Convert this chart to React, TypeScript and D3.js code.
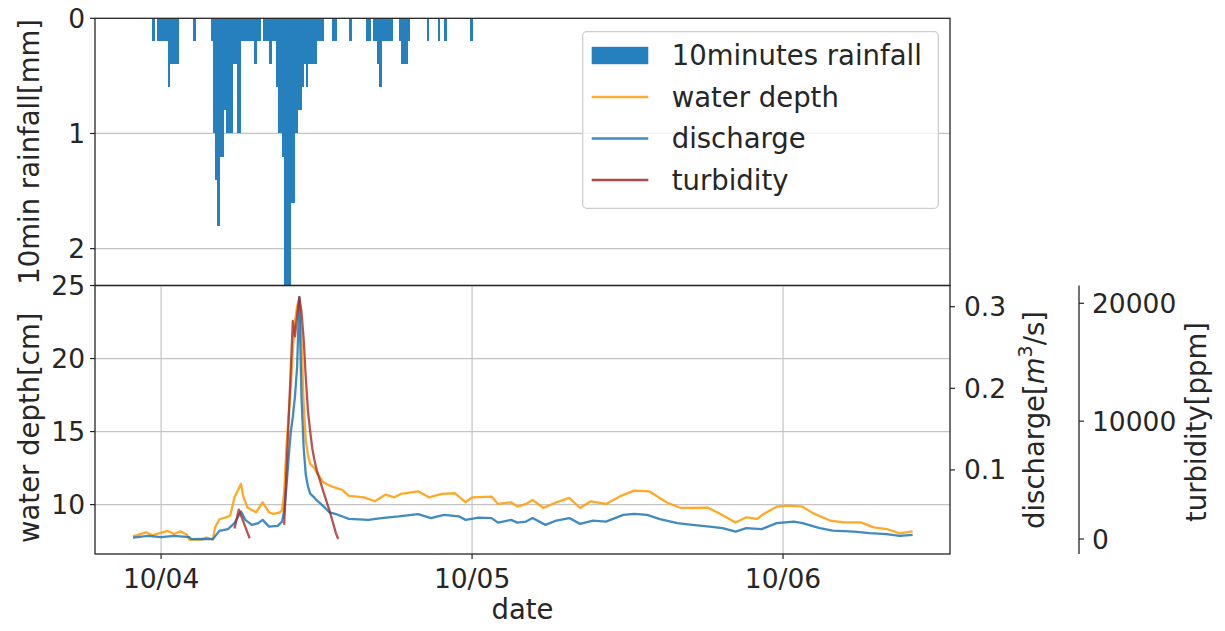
import React from "react";
import * as d3 from "d3";

const parse = d3.timeParse("%m/%d %H:%M");

// 10 minute rainfall [mm], one value per 10 min starting at rainStart
const rainStart = "10/03 23:20";
const rainfall = [
  0.2, 0, 0.2, 0.2, 0.2, 0.2, 0.2, 0.6, 0.4, 0.4,
  0.4, 0.4, 0, 0, 0, 0, 0, 0, 0, 0.2,
  0, 0, 0, 0, 0, 0, 0, 0.2, 1.0, 1.4,
  1.8, 1.2, 1.2, 0.8, 1.0, 1.0, 1.0, 0.4, 0.4, 1.0,
  1.0, 0.2, 0.2, 0.2, 0.2, 0.2, 0.2, 0.4, 0.2, 0.2,
  0, 0.2, 0.2, 0.2, 0.4, 0.2, 0.2, 0.6, 1.0, 1.0,
  1.2, 2.4, 2.4, 2.4, 1.6, 1.6, 1.0, 0.8, 0.8, 0.6,
  0.4, 0.6, 0.4, 0.4, 0.4, 0.4, 0.2, 0.2, 0.2, 0,
  0, 0, 0, 0.2, 0.2, 0, 0, 0, 0, 0,
  0, 0.2, 0, 0, 0, 0, 0, 0, 0, 0.2,
  0.2, 0, 0.2, 0.2, 0.4, 0.6, 0.2, 0.2, 0.2, 0.2,
  0.2, 0, 0, 0, 0.2, 0.4, 0.4, 0.4, 0.2, 0,
  0, 0, 0, 0, 0, 0, 0, 0.2, 0, 0,
  0, 0, 0.2, 0, 0, 0.2, 0, 0, 0, 0,
  0, 0, 0, 0, 0, 0, 0, 0.2,
];

// water depth [cm]
const waterDepth: [string, number][] = [
  ["10/03 21:50", 7.82], ["10/03 22:50", 8.1], ["10/03 23:20", 7.92], ["10/03 23:50", 8.03],
  ["10/04 00:30", 8.2], ["10/04 01:00", 7.99], ["10/04 01:30", 8.17], ["10/04 02:00", 7.94],
  ["10/04 02:10", 7.6], ["10/04 03:10", 7.6], ["10/04 03:30", 7.75], ["10/04 04:00", 7.6],
  ["10/04 04:10", 8.44], ["10/04 04:30", 9.0], ["10/04 05:00", 9.13], ["10/04 05:20", 9.24],
  ["10/04 05:40", 10.5], ["10/04 06:10", 11.42], ["10/04 06:20", 10.6], ["10/04 06:40", 9.8],
  ["10/04 07:20", 9.47], ["10/04 07:50", 10.16], ["10/04 08:20", 9.47], ["10/04 08:40", 9.36],
  ["10/04 09:10", 9.47], ["10/04 09:20", 9.6], ["10/04 09:30", 10.8], ["10/04 09:40", 13.8],
  ["10/04 09:50", 16.0], ["10/04 10:00", 17.9], ["10/04 10:10", 20.6], ["10/04 10:20", 22.5],
  ["10/04 10:30", 23.6], ["10/04 10:40", 24.1], ["10/04 10:50", 21.2], ["10/04 11:00", 17.0],
  ["10/04 11:10", 14.4], ["10/04 11:20", 13.4], ["10/04 11:30", 12.8], ["10/04 11:50", 12.5],
  ["10/04 12:00", 12.2], ["10/04 12:30", 11.55], ["10/04 13:00", 11.3], ["10/04 13:30", 11.15],
  ["10/04 14:00", 11.0], ["10/04 14:30", 10.6], ["10/04 15:40", 10.5], ["10/04 16:30", 10.23],
  ["10/04 17:20", 10.69], ["10/04 18:00", 10.5], ["10/04 18:30", 10.73], ["10/04 19:50", 10.91],
  ["10/04 20:40", 10.5], ["10/04 21:40", 10.73], ["10/04 22:40", 10.78], ["10/04 23:30", 10.16],
  ["10/05 00:00", 10.5], ["10/05 01:30", 10.55], ["10/05 02:00", 10.05], ["10/05 03:00", 10.16],
  ["10/05 03:30", 9.86], ["10/05 04:10", 10.05], ["10/05 04:40", 10.32], ["10/05 05:30", 9.77],
  ["10/05 06:30", 10.16], ["10/05 07:30", 10.46], ["10/05 08:20", 9.77], ["10/05 09:10", 10.23],
  ["10/05 10:20", 10.05], ["10/05 11:30", 10.6], ["10/05 12:30", 10.96], ["10/05 13:40", 10.91],
  ["10/05 15:00", 10.16], ["10/05 16:00", 9.8], ["10/05 17:00", 9.77], ["10/05 18:10", 9.8],
  ["10/05 19:10", 9.36], ["10/05 20:20", 8.78], ["10/05 21:10", 9.13], ["10/05 22:00", 9.02],
  ["10/05 22:30", 9.36], ["10/05 23:30", 9.86], ["10/06 00:20", 9.93], ["10/06 01:30", 9.86],
  ["10/06 02:20", 9.4], ["10/06 03:40", 8.9], ["10/06 04:40", 8.78], ["10/06 06:00", 8.78],
  ["10/06 07:00", 8.44], ["10/06 08:00", 8.33], ["10/06 09:00", 8.03], ["10/06 10:00", 8.17],
];

// discharge [m3/s]
const discharge: [string, number][] = [
  ["10/03 21:50", 0.0171], ["10/03 23:00", 0.0192], ["10/04 00:00", 0.0176], ["10/04 01:00", 0.0192],
  ["10/04 02:10", 0.0176], ["10/04 02:20", 0.0152], ["10/04 03:20", 0.0155], ["10/04 04:00", 0.0152],
  ["10/04 04:30", 0.0253], ["10/04 05:10", 0.0274], ["10/04 05:40", 0.0348], ["10/04 06:10", 0.049],
  ["10/04 06:30", 0.0388], ["10/04 07:00", 0.0327], ["10/04 07:30", 0.0348], ["10/04 07:50", 0.0388],
  ["10/04 08:20", 0.0306], ["10/04 09:00", 0.0315], ["10/04 09:20", 0.0367], ["10/04 09:30", 0.05],
  ["10/04 09:40", 0.078], ["10/04 09:50", 0.113], ["10/04 10:00", 0.145], ["10/04 10:10", 0.165],
  ["10/04 10:20", 0.19], ["10/04 10:30", 0.227], ["10/04 10:40", 0.312], ["10/04 10:50", 0.19],
  ["10/04 11:00", 0.128], ["10/04 11:10", 0.094], ["10/04 11:20", 0.08], ["10/04 11:30", 0.071],
  ["10/04 11:50", 0.066], ["10/04 12:00", 0.063], ["10/04 12:30", 0.056], ["10/04 13:00", 0.048],
  ["10/04 13:30", 0.046], ["10/04 14:00", 0.043], ["10/04 14:30", 0.04], ["10/04 16:00", 0.0388],
  ["10/04 17:00", 0.041], ["10/04 18:20", 0.043], ["10/04 19:50", 0.0458], ["10/04 20:50", 0.041],
  ["10/04 21:50", 0.0449], ["10/04 23:00", 0.043], ["10/04 23:30", 0.0388], ["10/05 00:30", 0.0416],
  ["10/05 01:30", 0.041], ["10/05 02:00", 0.0355], ["10/05 03:00", 0.0388], ["10/05 03:30", 0.0355],
  ["10/05 04:10", 0.0367], ["10/05 04:40", 0.041], ["10/05 05:40", 0.0327], ["10/05 06:30", 0.038],
  ["10/05 07:30", 0.041], ["10/05 08:20", 0.0339], ["10/05 09:20", 0.038], ["10/05 10:20", 0.0367],
  ["10/05 11:40", 0.0449], ["10/05 12:30", 0.0461], ["10/05 13:30", 0.0449], ["10/05 14:30", 0.0397],
  ["10/05 15:50", 0.0348], ["10/05 17:00", 0.0327], ["10/05 18:20", 0.0306], ["10/05 19:20", 0.0286],
  ["10/05 20:20", 0.0245], ["10/05 21:10", 0.0286], ["10/05 22:20", 0.0274], ["10/05 23:30", 0.0348],
  ["10/06 00:50", 0.0367], ["10/06 01:30", 0.0348], ["10/06 02:50", 0.0286], ["10/06 03:50", 0.0257],
  ["10/06 05:30", 0.0245], ["10/06 06:40", 0.0225], ["10/06 08:00", 0.0213], ["10/06 09:00", 0.0192],
  ["10/06 10:00", 0.0204],
];

// turbidity [ppm], null = no measurement
const turbidity: [string, number | null][] = [
  ["10/04 05:40", 900], ["10/04 06:00", 2500], ["10/04 06:50", 50], ["10/04 07:00", null],
  ["10/04 09:30", 1200], ["10/04 10:10", 18500], ["10/04 10:20", 17200], ["10/04 10:30", 19000],
  ["10/04 10:40", 20500], ["10/04 10:50", 19300], ["10/04 11:00", 17000], ["10/04 11:10", 13700],
  ["10/04 11:20", 10900], ["10/04 11:30", 9200], ["10/04 11:40", 7700], ["10/04 11:50", 6700],
  ["10/04 12:00", 5900], ["10/04 12:30", 4100], ["10/04 13:00", 2400], ["10/04 13:30", 480],
  ["10/04 13:40", 0],
];

const rainTicks = [0, 1, 2];
const depthTicks = [10, 15, 20, 25];
const dischargeTicks = [0.1, 0.2, 0.3];
const turbidityTicks = [0, 10000, 20000];
const dateTicks = ["10/04 00:00", "10/05 00:00", "10/06 00:00"];

const FONT = "DejaVu Sans";
const FS = 26.5; // tick labels
const LFS = 27.5; // axis labels, legend
const ORANGE = "#ffa010";
const BLUE = "#1f77b4";
const RED = "#a52a2a";
const BAR = "#2580bd";

const L = 95, R = 950;
const TOP1 = 18.3, BOT1 = 285.5, BOT2 = 554;
const TURB_X = 1079;

export default function App() {
  const x = d3.scaleTime().domain([parse("10/03 18:54")!, parse("10/06 12:53")!]).range([L, R]);
  const yRain = d3.scaleLinear().domain([0, 2.32]).range([TOP1, BOT1]);
  const yDepth = d3.scaleLinear().domain([6.62, 25]).range([BOT2, BOT1]);
  const yQ = d3.scaleLinear().domain([-0.003, 0.326]).range([BOT2, BOT1]);
  const yT = d3.scaleLinear().domain([-1272, 21510]).range([BOT2, BOT1]);

  const t0 = parse(rainStart)!;
  const bars = rainfall
    .map((v, i) => ({ t: d3.timeMinute.offset(t0, i * 10), v }))
    .filter((d) => d.v > 0);

  const depthLine = d3.line<[string, number]>().x((d) => x(parse(d[0])!)).y((d) => yDepth(d[1]));
  const qLine = d3.line<[string, number]>().x((d) => x(parse(d[0])!)).y((d) => yQ(d[1]));
  const tLine = d3
    .line<[string, number | null]>()
    .defined((d) => d[1] !== null)
    .x((d) => x(parse(d[0])!))
    .y((d) => yT(d[1] as number));

  const grid = "#c4c4c4";
  const spine = "#262626";
  const txt = "#262626";

  const legendItems = [
    { label: "10minutes rainfall", kind: "bar", color: BAR },
    { label: "water depth", kind: "line", color: ORANGE },
    { label: "discharge", kind: "line", color: BLUE },
    { label: "turbidity", kind: "line", color: RED },
  ];

  return (
    <svg
      width={1225}
      height={631}
      style={{ position: "absolute", left: 0, top: 0, background: "#fff" }}
      fontFamily={FONT}
      fontSize={FS}
    >
      <defs>
        <clipPath id="clipTop">
          <rect x={L} y={TOP1} width={R - L} height={BOT1 - TOP1} />
        </clipPath>
        <clipPath id="clipBot">
          <rect x={L} y={BOT1} width={R - L} height={BOT2 - BOT1} />
        </clipPath>
      </defs>

      {/* top panel: rainfall */}
      {rainTicks.slice(1).map((t) => (
        <line key={t} x1={L} x2={R} y1={yRain(t)} y2={yRain(t)} stroke={grid} strokeWidth={1.2} />
      ))}
      <g clipPath="url(#clipTop)" shapeRendering="crispEdges">
        {bars.map((d, i) => {
          const x0 = x(d.t);
          const x1 = x(d3.timeMinute.offset(d.t, 10));
          return (
            <rect key={i} x={x0} y={yRain(0)} width={x1 - x0 + 0.5} height={yRain(d.v) - yRain(0)} fill={BAR} />
          );
        })}
      </g>
      {rainTicks.map((t) => (
        <g key={t}>
          <line x1={L - 5} x2={L} y1={yRain(t)} y2={yRain(t)} stroke={spine} strokeWidth={1.2} />
          <text x={L - 10} y={yRain(t) + 0.36 * FS} textAnchor="end" fill={txt}>
            {t}
          </text>
        </g>
      ))}
      <rect x={L} y={TOP1} width={R - L} height={BOT1 - TOP1} fill="none" stroke={spine} strokeWidth={1.3} />
      <text transform={`translate(39,${(TOP1 + BOT1) / 2}) rotate(-90)`} textAnchor="middle" fontSize={LFS} fill={txt}>
        10min rainfall[mm]
      </text>

      {/* legend */}
      <g>
        <rect x={582.7} y={31.7} width={355.6} height={176.6} rx={4} fill="#fff" fillOpacity={0.8} stroke="#cccccc" strokeWidth={1.2} />
        {legendItems.map((it, i) => {
          const cy = 55.5 + i * 41.5;
          return (
            <g key={it.label}>
              {it.kind === "bar" ? (
                <rect x={591.7} y={cy - 8.7} width={56.6} height={17.4} fill={it.color} />
              ) : (
                <line x1={591.7} x2={648.3} y1={cy} y2={cy} stroke={it.color} strokeWidth={2.4} opacity={0.85} />
              )}
              <text x={671.7} y={cy + 9.7} fontSize={LFS} fill={txt}>
                {it.label}
              </text>
            </g>
          );
        })}
      </g>

      {/* bottom panel grid */}
      {depthTicks.slice(0, 3).map((t) => (
        <line key={t} x1={L} x2={R} y1={yDepth(t)} y2={yDepth(t)} stroke={grid} strokeWidth={1.2} />
      ))}
      {dateTicks.map((d) => (
        <line key={d} x1={x(parse(d)!)} x2={x(parse(d)!)} y1={BOT1} y2={BOT2} stroke={grid} strokeWidth={1.2} />
      ))}

      <g clipPath="url(#clipBot)" fill="none" strokeLinejoin="round">
        <path d={depthLine(waterDepth) ?? ""} stroke={ORANGE} strokeWidth={2.3} opacity={0.9} />
        <path d={qLine(discharge) ?? ""} stroke={BLUE} strokeWidth={2.3} opacity={0.85} />
        <path d={tLine(turbidity) ?? ""} stroke={RED} strokeWidth={2.3} opacity={0.8} />
      </g>

      <rect x={L} y={BOT1} width={R - L} height={BOT2 - BOT1} fill="none" stroke={spine} strokeWidth={1.3} />

      {/* water depth axis */}
      {depthTicks.map((t) => (
        <g key={t}>
          <line x1={L - 5} x2={L} y1={yDepth(t)} y2={yDepth(t)} stroke={spine} strokeWidth={1.2} />
          <text x={L - 10} y={yDepth(t) + 0.36 * FS} textAnchor="end" fill={txt}>
            {t}
          </text>
        </g>
      ))}
      <text transform={`translate(39,${(BOT1 + BOT2) / 2 + 8}) rotate(-90)`} textAnchor="middle" fontSize={LFS} fill={txt}>
        water depth[cm]
      </text>

      {/* date axis */}
      {dateTicks.map((d) => {
        const px = x(parse(d)!);
        return (
          <g key={d}>
            <line x1={px} x2={px} y1={BOT2} y2={BOT2 + 5} stroke={spine} strokeWidth={1.2} />
            <text x={px} y={BOT2 + 34} textAnchor="middle" fill={txt}>
              {d3.timeFormat("%m/%d")(parse(d)!)}
            </text>
          </g>
        );
      })}
      <text x={(L + R) / 2} y={619} textAnchor="middle" fontSize={LFS} fill={txt}>
        date
      </text>

      {/* discharge axis */}
      {dischargeTicks.map((t) => (
        <g key={t}>
          <line x1={R} x2={R + 5} y1={yQ(t)} y2={yQ(t)} stroke={spine} strokeWidth={1.2} />
          <text x={R + 14} y={yQ(t) + 0.36 * FS} fill={txt}>
            {t}
          </text>
        </g>
      ))}
      <text transform={`translate(1044,420) rotate(-90)`} textAnchor="middle" fontSize={LFS} fill={txt}>
        discharge[<tspan fontStyle="italic">m</tspan>
        <tspan fontSize={19} dy={-12}>3</tspan>
        <tspan dy={12}>/s]</tspan>
      </text>

      {/* turbidity axis */}
      <line x1={TURB_X} x2={TURB_X} y1={BOT1} y2={BOT2} stroke={spine} strokeWidth={1.3} />
      {turbidityTicks.map((t) => (
        <g key={t}>
          <line x1={TURB_X} x2={TURB_X + 5} y1={yT(t)} y2={yT(t)} stroke={spine} strokeWidth={1.2} />
          <text x={TURB_X + 13} y={yT(t) + 0.36 * FS} fill={txt}>
            {t}
          </text>
        </g>
      ))}
      <text transform={`translate(1206,422) rotate(-90)`} textAnchor="middle" fontSize={LFS} fill={txt}>
        turbidity[ppm]
      </text>
    </svg>
  );
}
